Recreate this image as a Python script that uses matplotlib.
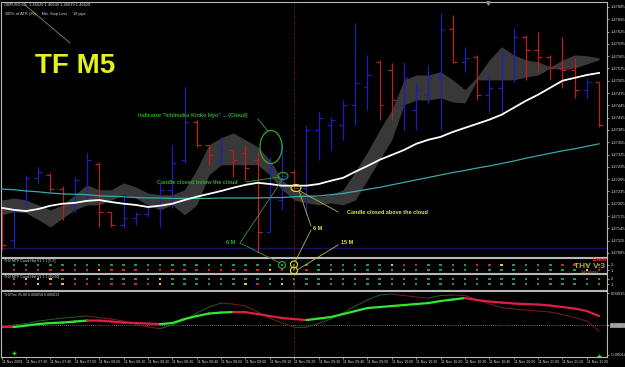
import numpy as np
import matplotlib
matplotlib.use("Agg")
import matplotlib.pyplot as plt
from matplotlib.patches import Ellipse, Circle
from matplotlib.collections import LineCollection

plt.rcParams['font.family'] = ['Liberation Sans', 'DejaVu Sans']

W, H = 625, 367

# --- GBPUSD M5 bars (bar 0 is the partial one on the left edge) ---
bar_open = [1.47190, 1.47117, 1.47214, 1.47268, 1.47275, 1.47241, 1.47200, 1.47227, 1.47302, 1.47185,
            1.47153, 1.47170, 1.47180, 1.47197, 1.47239, 1.47312, 1.47405, 1.47349, 1.47312, 1.47336,
            1.47329, 1.47312, 1.47136, 1.47214, 1.47283, 1.47244, 1.47385, 1.47397, 1.47397, 1.47446,
            1.47490, 1.47551, 1.47532, 1.47446, 1.47434, 1.47471, 1.47514, 1.47632, 1.47551, 1.47563,
            1.47471, 1.47488, 1.47568, 1.47612, 1.47580, 1.47563, 1.47536, 1.47532, 1.47483, 1.47502]
bar_high = [1.47200, 1.47197, 1.47275, 1.47295, 1.47280, 1.47249, 1.47270, 1.47329, 1.47307, 1.47185,
            1.47227, 1.47185, 1.47207, 1.47256, 1.47349, 1.47490, 1.47410, 1.47349, 1.47368, 1.47336,
            1.47349, 1.47331, 1.47319, 1.47353, 1.47288, 1.47397, 1.47429, 1.47417, 1.47458, 1.47646,
            1.47568, 1.47556, 1.47549, 1.47551, 1.47500, 1.47544, 1.47671, 1.47666, 1.47588, 1.47568,
            1.47519, 1.47580, 1.47634, 1.47617, 1.47624, 1.47568, 1.47612, 1.47561, 1.47512, 1.47502]
bar_low = [1.47092, 1.47097, 1.47197, 1.47256, 1.47234, 1.47166, 1.47185, 1.47214, 1.47148, 1.47148,
           1.47146, 1.47153, 1.47173, 1.47148, 1.47195, 1.47305, 1.47344, 1.47300, 1.47305, 1.47270,
           1.47263, 1.47085, 1.47136, 1.47190, 1.47239, 1.47178, 1.47312, 1.47336, 1.47361, 1.47397,
           1.47434, 1.47410, 1.47410, 1.47385, 1.47385, 1.47451, 1.47385, 1.47549, 1.47527, 1.47458,
           1.47427, 1.47427, 1.47502, 1.47507, 1.47527, 1.47507, 1.47488, 1.47463, 1.47463, 1.47392]
bar_close = [1.47105, 1.47190, 1.47268, 1.47283, 1.47241, 1.47200, 1.47263, 1.47312, 1.47185, 1.47153,
             1.47170, 1.47180, 1.47197, 1.47239, 1.47305, 1.47405, 1.47349, 1.47324, 1.47336, 1.47312,
             1.47292, 1.47136, 1.47288, 1.47273, 1.47244, 1.47385, 1.47414, 1.47410, 1.47446, 1.47500,
             1.47519, 1.47446, 1.47458, 1.47512, 1.47483, 1.47512, 1.47629, 1.47551, 1.47561, 1.47471,
             1.47488, 1.47568, 1.47612, 1.47580, 1.47563, 1.47536, 1.47532, 1.47483, 1.47502, 1.47397]

ma_fast = [1.47195, 1.47190, 1.47187, 1.47192, 1.47200, 1.47205, 1.47207, 1.47212, 1.47214, 1.47209,
           1.47205, 1.47202, 1.47197, 1.47200, 1.47205, 1.47214, 1.47222, 1.47229, 1.47236, 1.47244,
           1.47251, 1.47256, 1.47253, 1.47249, 1.47249, 1.47249, 1.47253, 1.47261, 1.47268, 1.47283,
           1.47297, 1.47312, 1.47324, 1.47336, 1.47351, 1.47361, 1.47368, 1.47380, 1.47390, 1.47400,
           1.47410, 1.47422, 1.47439, 1.47456, 1.47471, 1.47488, 1.47505, 1.47512, 1.47519, 1.47524]
ma_slow = [1.47241, 1.47239, 1.47236, 1.47234, 1.47231, 1.47229, 1.47228, 1.47227, 1.47224, 1.47223,
           1.47222, 1.47220, 1.47219, 1.47219, 1.47218, 1.47218, 1.47218, 1.47218, 1.47219, 1.47219,
           1.47219, 1.47219, 1.47220, 1.47220, 1.47222, 1.47223, 1.47224, 1.47227, 1.47230, 1.47235,
           1.47240, 1.47245, 1.47251, 1.47257, 1.47263, 1.47269, 1.47275, 1.47281, 1.47286, 1.47292,
           1.47297, 1.47303, 1.47309, 1.47316, 1.47322, 1.47328, 1.47334, 1.47339, 1.47345, 1.47351]

# Ichimoku cloud edges
span_a = [1.47214, 1.47219, 1.47214, 1.47202, 1.47190, 1.47202, 1.47227, 1.47251, 1.47239, 1.47239,
          1.47256, 1.47246, 1.47231, 1.47227, 1.47227, 1.47239, 1.47288, 1.47349, 1.47366, 1.47378,
          1.47361, 1.47344, 1.47312, 1.47263, 1.47239, 1.47227, 1.47222, 1.47227, 1.47239, 1.47283,
          1.47331, 1.47385, 1.47434, 1.47507, 1.47519, 1.47519, 1.47527, 1.47507, 1.47483, 1.47514,
          1.47556, 1.47588, 1.47568, 1.47556, 1.47551, 1.47539, 1.47556, 1.47568, 1.47566, 1.47561]
span_b = [1.47178, 1.47185, 1.47183, 1.47166, 1.47148, 1.47170, 1.47190, 1.47202, 1.47202, 1.47214,
          1.47227, 1.47219, 1.47202, 1.47190, 1.47202, 1.47178, 1.47202, 1.47275, 1.47300, 1.47300,
          1.47300, 1.47300, 1.47275, 1.47239, 1.47214, 1.47207, 1.47202, 1.47207, 1.47202, 1.47214,
          1.47263, 1.47312, 1.47361, 1.47446, 1.47458, 1.47458, 1.47463, 1.47453, 1.47451, 1.47507,
          1.47507, 1.47507, 1.47507, 1.47514, 1.47519, 1.47536, 1.47532, 1.47536, 1.47546, 1.47556]
level_line = 1.47097
marked_bar = 24

# THV MTF cloud dots, bars 1..49 (g = green, r = red, y = yellow)
hist1_top = 'g' * 31 + 'yrrggggrryggggrrgg'
hist1_bot = 'rrrrrrry' + 'r' * 13 + 'yrrr' + 'g' * 22 + 'yr'
hist2_top = 'gyyy' + 'g' * 8 + 'y' + 'g' * 36
hist2_bot = 'rryryrrrrrrry' + 'gggggg' + 'yrgy' + 'g' * 26

# THV Trix (units of 1e-5)
trix = [-0.94, -0.94, -0.24, 0.47, 0.94, 1.18, 1.65, 2.12, 2.10, 1.65,
        1.18, 0.94, 0.71, 0.47, 0.94, 2.82, 4.23, 5.41, 5.88, 6.11,
        6.05, 5.17, 4.23, 3.29, 2.82, 2.35, 3.06, 3.76, 5.17, 6.58,
        7.99, 8.46, 8.93, 9.40, 9.87, 10.34, 11.28, 11.99, 12.69, 11.75,
        11.05, 10.58, 10.11, 9.87, 9.64, 9.17, 8.46, 7.76, 6.58, 4.23]
trix_signal = [-0.94, 0.00, 0.71, 1.88, 2.59, 3.29, 3.76, 4.23, 3.53, 2.82,
               1.88, 0.47, -0.94, -1.65, 0.00, 2.35, 5.64, 8.46, 10.34, 9.87,
               8.93, 6.11, 3.29, 0.94, -0.94, -0.94, 0.71, 2.82, 5.64, 8.93,
               11.75, 14.10, 14.57, 13.87, 13.16, 12.69, 13.87, 14.10, 13.87, 11.75,
               9.87, 8.23, 7.52, 7.05, 6.58, 6.11, 4.94, 3.53, 1.88, -2.82]
plus_bars = [1, 49]
plus_vals = [-13.2, -14.3]

time_labels = ['11 Nov 2009', '11 Nov 07:30', '11 Nov 07:40', '11 Nov 07:50', '11 Nov 08:00',
               '11 Nov 08:10', '11 Nov 08:20', '11 Nov 08:30', '11 Nov 08:40', '11 Nov 08:50',
               '11 Nov 09:00', '11 Nov 09:10', '11 Nov 09:20', '11 Nov 09:30', '11 Nov 09:40',
               '11 Nov 09:50', '11 Nov 10:00', '11 Nov 10:10', '11 Nov 10:20', '11 Nov 10:30',
               '11 Nov 10:40', '11 Nov 10:50', '11 Nov 11:00', '11 Nov 11:10', '11 Nov 11:20']

UP, DOWN = '#1f1fb8', '#b81f1f'
FRAME = '#b8b8b8'
LABEL = '#d8d8d8'
DOT = {'g': '#2f8f5a', 'r': '#c02a2a', 'y': '#e8c830'}
XLIM = (-0.05, 49.65)


def px_axes(fig, x0, y0, x1, y1):
    ax = fig.add_axes([x0 / W, 1 - y1 / H, (x1 - x0) / W, (y1 - y0) / H])
    ax.set_facecolor('black')
    for s in ax.spines.values():
        s.set_color(FRAME)
        s.set_linewidth(0.8)
    ax.set_xlim(*XLIM)
    ax.yaxis.tick_right()
    ax.tick_params(axis='y', colors=LABEL, labelsize=3.0, length=1.5, width=0.5, pad=1)
    ax.tick_params(axis='x', bottom=False, labelbottom=False)
    return ax


def slope_lines(ax, x, y, up, down, lw):
    pts = np.column_stack([x, y])
    segs = np.stack([pts[:-1], pts[1:]], axis=1)
    cols = [up if d > 0 else down for d in np.diff(y)]
    ax.add_collection(LineCollection(segs, colors=cols, linewidths=lw, capstyle='round'))


def dot_row(ax, codes, yval):
    xs = np.arange(1, len(codes) + 1)
    ax.scatter(xs, [yval] * len(codes), c=[DOT[c] for c in codes], marker='s', s=3.2, lw=0)


def main():
    fig = plt.figure(figsize=(W / 100, H / 100), dpi=100, facecolor='black')
    x = np.arange(len(bar_open))

    # main price window
    ax = px_axes(fig, 1, 2, 607, 257)
    ax.set_ylim(1.47075, 1.47697)
    ticks = 1.47085 + 0.0003 * np.arange(21)
    ax.set_yticks(ticks)
    ax.set_yticklabels([f'{t:.5f}' for t in ticks])
    ax.fill_between(x, span_a, span_b, color='#383838', lw=0, zorder=1)
    ax.axhline(level_line, color='#15155e', lw=1.0, zorder=1)
    colors = [UP if c >= o else DOWN for o, c in zip(bar_open, bar_close)]
    ax.vlines(x, bar_low, bar_high, colors=colors, lw=0.9, zorder=2)
    ax.hlines(bar_open, x - 0.32, x, colors=colors, lw=0.9, zorder=2)
    ax.hlines(bar_close, x, x + 0.32, colors=colors, lw=0.9, zorder=2)
    ax.plot(x, ma_slow, color='#3aa8a8', lw=0.9, zorder=3)
    ax.plot(x, ma_fast, color='white', lw=1.3, zorder=3)
    ax.axvline(marked_bar, color='#a01a1a', lw=0.7, ls=(0, (1, 1.5)), zorder=2)

    # THV MTF cloud histograms
    p2 = px_axes(fig, 1, 258, 607, 273)
    p2.set_ylim(0.4, 3.4)
    p2.set_yticks([2, 1])
    dot_row(p2, hist1_top, 2)
    dot_row(p2, hist1_bot, 1)
    p2.text(0.005, 0.93, 'THV MTF Cloud Hist V1.1.1 [5,5]', transform=p2.transAxes,
            color=LABEL, fontsize=2.5, va='top')

    p3 = px_axes(fig, 1, 274, 607, 290)
    p3.set_ylim(-0.2, 3.0)
    p3.set_yticks([2, 1])
    dot_row(p3, hist2_top, 2)
    dot_row(p3, hist2_bot, 1)
    p3.text(0.005, 0.93, 'THV MTF Cloud Hist V1.1.1 [30,60]', transform=p3.transAxes,
            color=LABEL, fontsize=2.5, va='top')
    for a in (p2, p3):
        a.axvline(marked_bar, color='#a01a1a', lw=0.7, ls=(0, (1, 1.5)))

    # THV Trix
    p4 = px_axes(fig, 1, 291, 607, 357)
    p4.set_ylim(-15.0, 16.0)
    p4.set_yticks([15, 0, -14])
    p4.set_yticklabels(['0.00015', '0.00000', '-0.00014'])
    p4.get_yticklabels()[1].set_bbox(dict(facecolor='#8a8a8a', edgecolor='none', pad=0.6))
    p4.axhline(0, color='#909090', lw=0.6, ls=(0, (1, 1.5)))
    p4.axvline(marked_bar, color='#a01a1a', lw=0.7, ls=(0, (1, 1.5)))
    slope_lines(p4, x, np.array(trix_signal), '#1f5f1f', '#7a1c1c', 0.7)
    slope_lines(p4, x, np.array(trix), '#33e633', '#dc1f45', 1.6)
    p4.plot(plus_bars, plus_vals, ls='none', marker='+', color='#22e022', ms=3.5, mew=0.9)
    p4.text(0.005, 0.97, 'THVTrix V5.00 0.000050 0.000033', transform=p4.transAxes,
            color=LABEL, fontsize=2.5, va='top')
    p4.set_xticks(np.arange(0, 49, 2))
    p4.set_xticklabels(time_labels, ha='left')
    p4.tick_params(axis='x', bottom=True, labelbottom=True, colors=LABEL, labelsize=2.6,
                   length=1.5, width=0.5, pad=0.8)

    # annotation overlay in pixel space
    ov = fig.add_axes([0, 0, 1, 1])
    ov.set_xlim(0, W)
    ov.set_ylim(H, 0)
    ov.axis('off')
    ov.patch.set_alpha(0)

    green, yellow = '#2ea82e', '#e2e63a'
    ov.text(4, 5, 'GBPUSD,M5  1.46629 1.46649 1.46619 1.46629', color=LABEL, fontsize=2.8, va='center')
    ov.text(5, 14, '300% of ATR (20)     Min. Stop Loss     18 pips', color=LABEL, fontsize=2.8, va='center')
    ov.plot([25, 70], [5, 43], color='#8f8f3a', lw=0.6)
    ov.text(75, 66, 'TF M5', color='#e6f01e', fontsize=20, fontweight='bold', ha='center', va='center')
    ov.plot([488], [3], marker='v', color='#8a8a8a', ms=2.5)

    ov.text(193, 116, 'Indicator "Ichimoku Kinko Hyo" ... (Cloud)', color=green, fontsize=4.0,
            fontweight='bold', ha='center', va='center')
    ov.plot([258, 268], [119, 131], color=green, lw=0.6)
    ov.add_patch(Ellipse((271, 147), 22, 33, fill=False, ec=green, lw=0.9))

    ov.text(197, 182, 'Candle closed below the cloud', color=green, fontsize=4.0,
            fontweight='bold', ha='center', va='center')
    ov.plot([246, 279], [182, 177], color=green, lw=0.6)
    ov.add_patch(Ellipse((283, 176), 10, 7, fill=False, ec=green, lw=0.8))

    ov.add_patch(Ellipse((296, 188), 10, 7, fill=False, ec=yellow, lw=0.8))
    ov.plot([300, 338], [191, 212], color='#b8b83a', lw=0.6)
    ov.text(387, 213, 'Candle closed above the cloud', color=yellow, fontsize=4.0,
            fontweight='bold', ha='center', va='center')

    ov.text(231, 243, '6 M', color=green, fontsize=4.0, fontweight='bold', ha='center', va='center')
    ov.plot([240, 282], [243, 180], color='#3f8f3f', lw=0.6)
    ov.plot([240, 280], [243, 263], color='#3f8f3f', lw=0.6)
    ov.add_patch(Circle((282, 265), 3.5, fill=False, ec=green, lw=0.8))

    ov.text(318, 228, '6 M', color=yellow, fontsize=4.0, fontweight='bold', ha='center', va='center')
    ov.plot([311, 299], [226, 191], color='#b8b83a', lw=0.6)
    ov.plot([311, 295], [230, 262], color='#b8b83a', lw=0.6)
    ov.text(347, 243, '15 M', color=yellow, fontsize=4.0, fontweight='bold', ha='center', va='center')
    ov.plot([338, 297], [245, 270], color='#b8b83a', lw=0.6)
    ov.add_patch(Circle((294, 264.5), 3.5, fill=False, ec=yellow, lw=0.8))
    ov.add_patch(Circle((294, 270.5), 3.5, fill=False, ec=yellow, lw=0.8))

    ov.text(600, 259.5, 'Lower', color='#ff2a2a', fontsize=3.6, fontweight='bold', ha='center', va='center')
    ov.text(590, 266, 'THV V.3', color='#b8aa00', fontsize=6, fontweight='bold', ha='center', va='center')
    ov.text(590, 272, 'Cobraforex', color='#c08010', fontsize=2.6, ha='center', va='center')

    fig.savefig('out.png', dpi=100, facecolor='black')


if __name__ == '__main__':
    main()
